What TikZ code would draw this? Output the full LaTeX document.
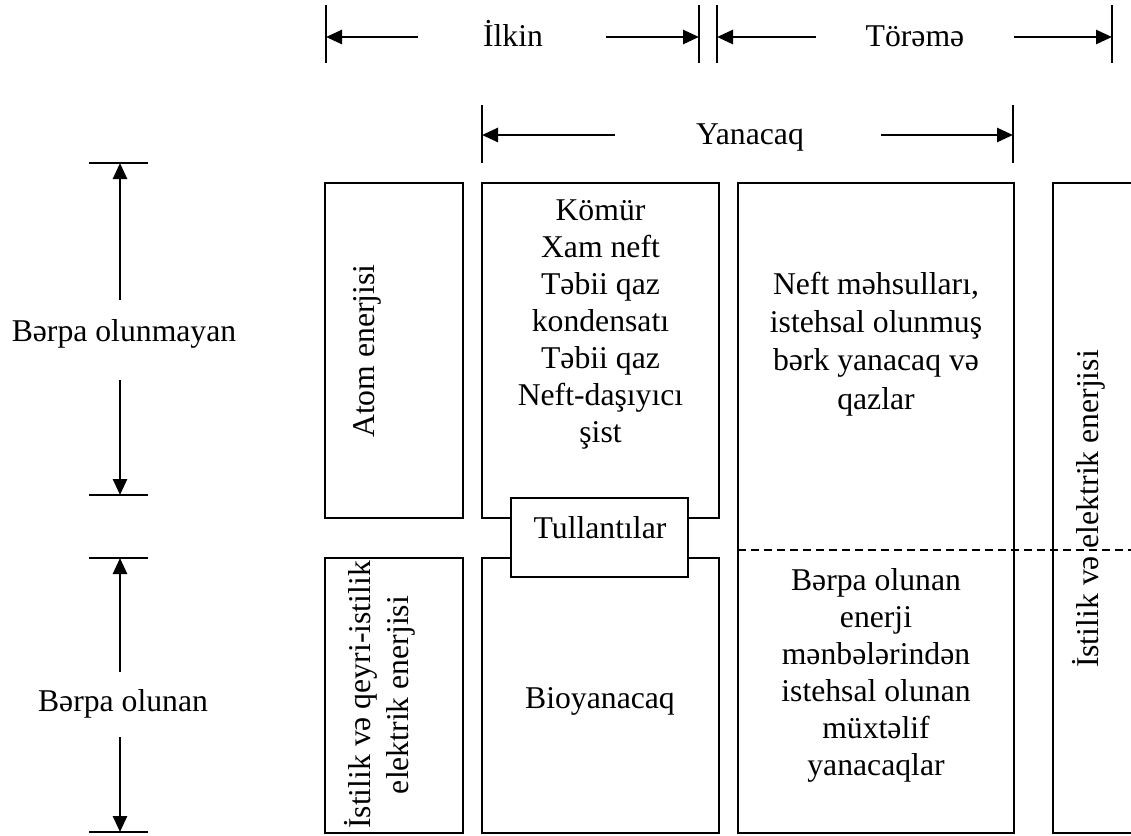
\documentclass[tikz,border=0pt]{standalone}
\usepackage{fontspec}
\setmainfont{Liberation Serif}
\usetikzlibrary{arrows.meta}
\begin{document}
\begin{tikzpicture}[x=0.5pt,y=-0.5pt,
  txt/.style={font=\fontsize{15.85}{18.5}\selectfont, inner sep=0pt, align=center},
  panel/.style={draw, line width=1pt, inner sep=0pt, outer sep=0pt},
  tick/.style={line width=0.8pt},
  dimarrow/.style={line width=1.3pt, -{Triangle[length=8pt,width=7pt]}},
  divider/.style={line width=0.8pt, dash pattern=on 4pt off 2.5pt},
]
\useasboundingbox (0,0) rectangle (1131,836);
\begin{scope}
\clip (0,0) rectangle (1131,836);

% ---- panels ----
\node[panel, minimum width=69pt,   minimum height=167.5pt] (atom)    at (394,350.5) {};
\node[panel, minimum width=118.5pt,minimum height=167.5pt] (fossil)  at (600.5,350.5) {};
\node[panel, minimum width=138pt,  minimum height=325pt]   (derived) at (876,508) {};
\node[panel, minimum width=58.5pt, minimum height=325pt]   (heat)    at (1111.5,508) {};
\node[panel, minimum width=69pt,   minimum height=137.5pt] (renew)   at (394,695.5) {};
\node[panel, minimum width=118.5pt,minimum height=137.5pt] (bio)     at (600.5,695.5) {};

% ---- panel texts ----
\node[txt, rotate=90] (atomtxt) at (367,351) {Atom enerjisi};
\node[txt] (fossiltxt) at (600.5,324) {Kömür\\Xam neft\\Təbii qaz\\kondensatı\\Təbii qaz\\Neft-daşıyıcı\\şist};
\node[txt, font=\fontsize{15.85}{19.1}\selectfont] (derivedtxt) at (876,344) {Neft məhsulları,\\istehsal olunmuş\\bərk yanacaq və\\qazlar};
\node[txt] (renderivtxt) at (876,675) {Bərpa olunan\\enerji\\mənbələrindən\\istehsal olunan\\müxtəlif\\yanacaqlar};
\node[txt, rotate=90, font=\fontsize{15.85}{19}\selectfont] (renewtxt) at (380,695) {İstilik və qeyri-istilik\\elektrik enerjisi};
\node[txt, anchor=base] (biotxt) at (600,708) {Bioyanacaq};

% ---- dashed divider across the derived column ----
\coordinate (divR) at (1131,550);
\draw[divider] (derived.west |- divR) -- (divR);
\node[txt, rotate=90] (heattxt) at (1089,509) {İstilik və elektrik enerjisi};

% ---- waste box bridging the two fuel panels ----
\node[panel, fill=white, minimum width=88.5pt, minimum height=39.5pt] (waste) at (599.5,537.5) {};
\node[txt, anchor=base] (wastetxt) at (600,538) {Tullantılar};
\end{scope}

% ---- top dimension lines ----
\node[txt, anchor=base] (ilkin)  at (513,46) {İlkin};
\node[txt, anchor=base] (torem)  at (915,46) {Törəmə};
\node[txt, anchor=base] (yanac)  at (750,144) {Yanacaq};

\coordinate (t1a) at (326,5);  \coordinate (t1b) at (326,63);
\coordinate (t2a) at (699,5);  \coordinate (t2b) at (699,63);
\coordinate (t3a) at (717,5);  \coordinate (t3b) at (717,63);
\coordinate (t4a) at (1112,5); \coordinate (t4b) at (1112,63);
\coordinate (t5a) at (482,105); \coordinate (t5b) at (482,163);
\coordinate (t6a) at (1013,105); \coordinate (t6b) at (1013,163);
\foreach \t in {1,...,6} \draw[tick] (t\t a) -- (t\t b);

\coordinate (a1) at (418,37);  \coordinate (a2) at (606,37);
\coordinate (a3) at (816,37);  \coordinate (a4) at (1014,37);
\coordinate (a5) at (615,135); \coordinate (a6) at (881,135);
\draw[dimarrow] (a1) -- (t1a |- a1);
\draw[dimarrow] (a2) -- (t2a |- a2);
\draw[dimarrow] (a3) -- (t3a |- a3);
\draw[dimarrow] (a4) -- (t4a |- a4);
\draw[dimarrow] (a5) -- (t5a |- a5);
\draw[dimarrow] (a6) -- (t6a |- a6);

% ---- left dimension lines ----
\node[txt, anchor=base] (nonren) at (124,341) {Bərpa olunmayan};
\node[txt, anchor=base] (ren)    at (123,711) {Bərpa olunan};

\coordinate (h1a) at (89,163); \coordinate (h1b) at (148,163);
\coordinate (h2a) at (89,495); \coordinate (h2b) at (148,495);
\coordinate (h3a) at (89,558); \coordinate (h3b) at (148,558);
\coordinate (h4a) at (89,832); \coordinate (h4b) at (148,832);
\foreach \t in {1,...,4} \draw[tick] (h\t a) -- (h\t b);

\coordinate (v1) at (120,300); \coordinate (v2) at (120,380);
\coordinate (v3) at (120,672); \coordinate (v4) at (120,737);
\draw[dimarrow] (v1) -- (v1 |- h1a);
\draw[dimarrow] (v2) -- (v2 |- h2a);
\draw[dimarrow] (v3) -- (v3 |- h3a);
\draw[dimarrow] (v4) -- (v4 |- h4a);
\end{tikzpicture}
\end{document}
